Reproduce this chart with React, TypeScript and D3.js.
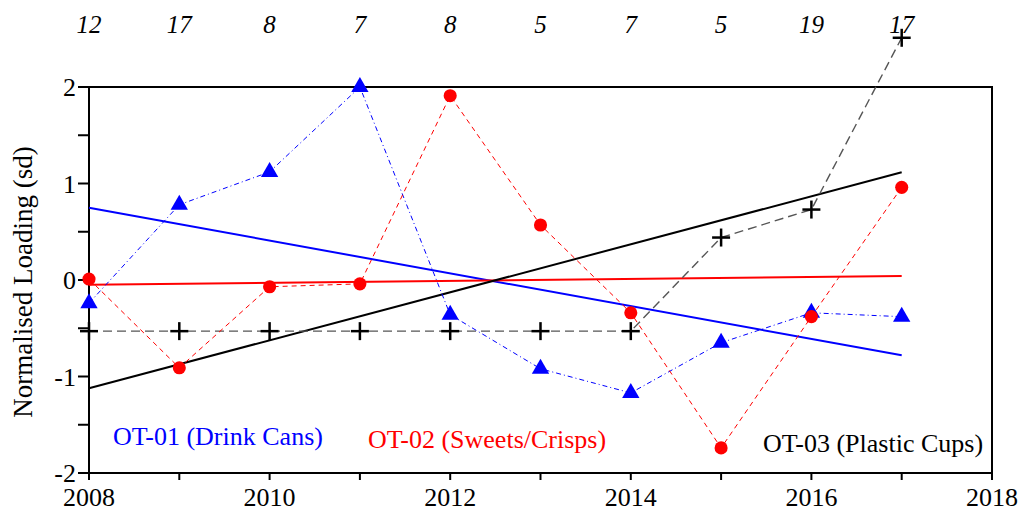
import React from "react";
import * as d3 from "d3";

const years = [2008, 2009, 2010, 2011, 2012, 2013, 2014, 2015, 2016, 2017];
const ot01 = [-0.24, 0.78, 1.12, 2.0, -0.36, -0.92, -1.17, -0.65, -0.34, -0.38];
const ot02 = [0.01, -0.91, -0.07, -0.04, 1.91, 0.57, -0.34, -1.74, -0.38, 0.96];
const ot03 = [-0.53, -0.53, -0.53, -0.53, -0.53, -0.53, -0.53, 0.44, 0.73, 2.51];
const counts = ["12", "17", "8", "7", "8", "5", "7", "5", "19", "17"];
const xTicks = [2008, 2009, 2010, 2011, 2012, 2013, 2014, 2015, 2016, 2017, 2018];
const xLabels = [2008, 2010, 2012, 2014, 2016, 2018];
const yTicks = [-2, -1.5, -1, -0.5, 0, 0.5, 1, 1.5, 2];
const yLabels = [-2, -1, 0, 1, 2];
const legendLabels = ["OT-01 (Drink Cans)", "OT-02 (Sweets/Crisps)", "OT-03 (Plastic Cups)"];

const W = 1032, H = 511;
const FONT = "'Liberation Serif', 'Times New Roman', serif";

function fit(xs: number[], ys: number[]) {
  const mx = d3.mean(xs)!, my = d3.mean(ys)!;
  let sxy = 0, sxx = 0;
  xs.forEach((x, i) => { sxy += (x - mx) * (ys[i] - my); sxx += (x - mx) * (x - mx); });
  const b = sxy / sxx;
  return (x: number) => my + b * (x - mx);
}

export default function App() {
  const x = d3.scaleLinear().domain([2008, 2018]).range([89, 992]);
  const y = d3.scaleLinear().domain([-2, 2]).range([473, 87]);
  const line = d3.line<number>().x((_, i) => x(years[i])).y((d) => y(d));
  const tri = d3.symbol().type(d3.symbolTriangle).size(130)()!;
  const circ = d3.symbol().type(d3.symbolCircle).size(135)()!;
  const x0 = years[0], x1 = years[years.length - 1];
  const trends = [
    { f: fit(years, ot01), c: "#0000ff" },
    { f: fit(years, ot02), c: "#ff0000" },
    { f: fit(years, ot03), c: "#000000" },
  ];
  return (
    <svg width={W} height={H} style={{ position: "absolute", left: 0, top: 0, background: "#fff" }} fontFamily={FONT}>
      <rect width={W} height={H} fill="#fff" />
      {/* frame */}
      <rect x={89} y={87} width={903} height={386} fill="none" stroke="#000" strokeWidth={2} />
      {yTicks.map((t) => (
        <line key={"yt" + t} x1={78} x2={89} y1={y(t)} y2={y(t)} stroke="#000" strokeWidth={2} />
      ))}
      {yLabels.map((t) => (
        <text key={"yl" + t} x={76} y={y(t)} dy="0.35em" textAnchor="end" fontSize={26}>{t < 0 ? "-" + Math.abs(t) : t}</text>
      ))}
      {xTicks.map((t) => (
        <line key={"xt" + t} x1={x(t)} x2={x(t)} y1={473} y2={480} stroke="#000" strokeWidth={2} />
      ))}
      {xLabels.map((t) => (
        <text key={"xl" + t} x={x(t)} y={506} textAnchor="middle" fontSize={26}>{t}</text>
      ))}
      <text transform={`translate(32,282) rotate(-90)`} textAnchor="middle" fontSize={27}>Normalised Loading (sd)</text>
      {counts.map((c, i) => (
        <text key={"c" + i} x={x(years[i])} y={33} textAnchor="middle" fontSize={25} fontStyle="italic">{c}</text>
      ))}
      {/* trend lines */}
      {trends.map((t, i) => (
        <line key={"tr" + i} x1={x(x0)} x2={x(x1)} y1={y(t.f(x0))} y2={y(t.f(x1))} stroke={t.c} strokeWidth={2} />
      ))}
      {/* data lines */}
      <path d={line(ot03)!} fill="none" stroke="#555" strokeWidth={1.4} strokeDasharray="9,5" />
      <path d={line(ot01)!} fill="none" stroke="#0000ff" strokeWidth={1} strokeDasharray="5,3,1,3" />
      <path d={line(ot02)!} fill="none" stroke="#ff0000" strokeWidth={1} strokeDasharray="5,4" />
      {/* markers */}
      {ot03.map((v, i) => (
        <g key={"p3" + i} transform={`translate(${x(years[i])},${y(v)})`} stroke="#000" strokeWidth={2.5}>
          <line x1={-9} x2={9} y1={0} y2={0} />
          <line x1={0} x2={0} y1={-9} y2={9} />
        </g>
      ))}
      {ot01.map((v, i) => (
        <path key={"p1" + i} d={tri} transform={`translate(${x(years[i])},${y(v)})`} fill="#0000ff" />
      ))}
      {ot02.map((v, i) => (
        <path key={"p2" + i} d={circ} transform={`translate(${x(years[i])},${y(v)})`} fill="#ff0000" />
      ))}
      {/* legend */}
      <text x={113} y={445} fontSize={26} fill="#0000ff">{legendLabels[0]}</text>
      <text x={368} y={448} fontSize={26} fill="#ff0000">{legendLabels[1]}</text>
      <text x={763} y={452} fontSize={26} fill="#000">{legendLabels[2]}</text>
    </svg>
  );
}
